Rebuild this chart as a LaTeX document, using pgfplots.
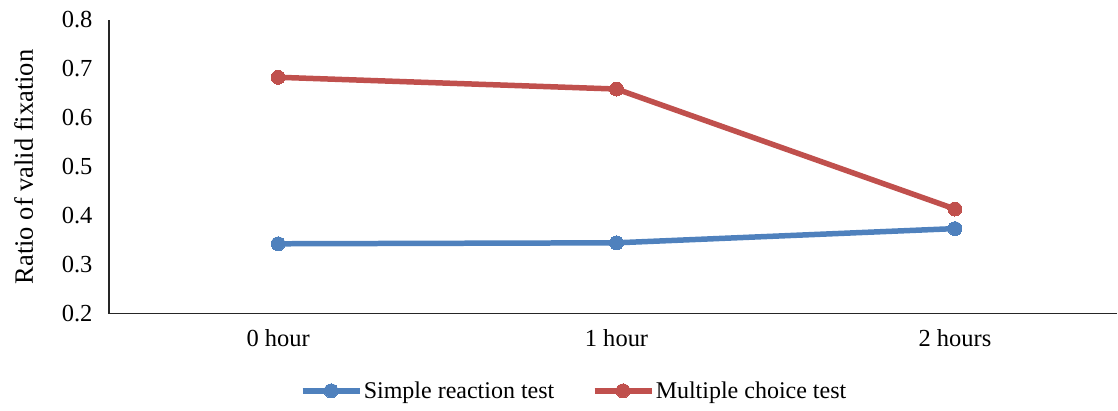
\documentclass[border=0pt]{standalone}
\usepackage{pgfplots}
\pgfplotsset{compat=1.18}
\usepackage{fontspec}
\setmainfont{Liberation Serif}
\definecolor{exblue}{HTML}{4F81BD}
\definecolor{exred}{HTML}{C0504D}
\begin{document}
\begin{tikzpicture}
\begin{axis}[
  scale only axis,
  width=1009bp, height=294bp,
  xmin=-0.5, xmax=2.48,
  ymin=0.2, ymax=0.8,
  ytick={0.2,0.3,...,0.8},
  xtick={0,1,2},
  xticklabels={0 hour,1 hour,2 hours},
  yticklabel style={/pgf/number format/fixed,/pgf/number format/precision=1,/pgf/number format/fixed zerofill, xshift=-13bp},
  xticklabel style={yshift=-12bp},
  /pgf/number format/assume math mode=true,
  major tick length=0pt,
  axis lines=left,
  axis line style={line width=1.3bp, black!85},
  x axis line style={-}, y axis line style={-},
  font=\fontsize{24bp}{28bp}\selectfont,
  tick label style={font=\fontsize{24.5bp}{28bp}\selectfont},
  ylabel={Ratio of valid fixation},
  ylabel style={at={(axis description cs:-0.0845,0.5)}, anchor=center, font=\fontsize{26.5bp}{30bp}\selectfont},
  legend columns=2,
  legend style={draw=none, at={(axis description cs:0.461,-0.262)}, anchor=center,
    font=\fontsize{24bp}{28bp}\selectfont, nodes={inner sep=1.5bp},
    /tikz/every even column/.append style={column sep=36bp}},
  legend image code/.code={\draw[mark repeat=2,mark phase=2,#1] plot coordinates {(0bp,0bp) (28.5bp,0bp) (57bp,0bp)};},
  clip=false,
]
\addplot[exblue, line width=5.5bp, mark=*, mark size=7bp, mark options={line width=0pt}] coordinates {(0,0.343) (1,0.345) (2,0.374)};
\addlegendentry{Simple reaction test}
\addplot[exred, line width=5.5bp, mark=*, mark size=7bp, mark options={line width=0pt}] coordinates {(0,0.683) (1,0.659) (2,0.414)};
\addlegendentry{Multiple choice test}
\path (axis description cs:0,0) ++(-109bp,-97bp) coordinate (bbA);
\path (axis description cs:1,1) ++(0bp,20bp) coordinate (bbB);
\end{axis}
\useasboundingbox (bbA) rectangle (bbB);
\end{tikzpicture}
\end{document}
